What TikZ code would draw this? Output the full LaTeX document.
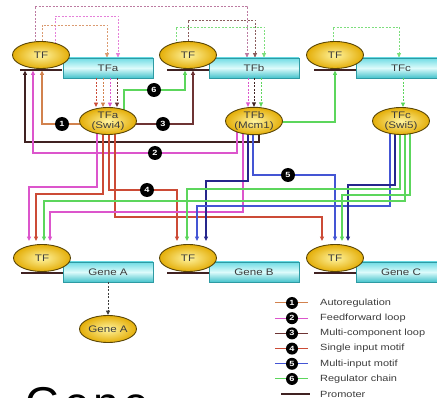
\documentclass[tikz,border=0pt]{standalone}
\usepackage{fontspec}
\setmainfont[FakeStretch=1.22]{Liberation Sans}
\newfontfamily\bigfont[LetterSpace=8]{Liberation Sans}
\usetikzlibrary{arrows.meta,calc,shapes.geometric}
\definecolor{ink}{HTML}{3C3C3C}
\definecolor{gold1}{HTML}{FFF4A0}
\definecolor{gold2}{HTML}{E4AE08}
\definecolor{tfline}{HTML}{5A4606}
\definecolor{boxtop}{HTML}{6FDCE4}
\definecolor{boxmid}{HTML}{DDFBFB}
\definecolor{boxbot}{HTML}{45C3CC}
\definecolor{boxline}{HTML}{2E9AA3}
\definecolor{colauto}{HTML}{D2824E}
\definecolor{colffwd}{HTML}{DC55CC}
\definecolor{colffdark}{HTML}{402222}
\definecolor{colmulti}{HTML}{6E3434}
\definecolor{colsingle}{HTML}{CC4B36}
\definecolor{colmimo}{HTML}{4455D4}
\definecolor{colnavy}{HTML}{26268C}
\definecolor{colchain}{HTML}{5CD65C}
\pgfdeclarelayer{back}
\pgfsetlayers{back,main}
\tikzset{
  tf/.style={ellipse, draw=tfline, line width=0.9pt, inner color=gold1, outer color=gold2,
    minimum width=57pt, minimum height=27pt, inner sep=0pt, align=center,
    font=\fontsize{9.5}{10.5}\selectfont, text=ink},
  genebox/.style={rectangle, draw=boxline, line width=0.7pt, top color=boxtop, bottom color=boxbot,
    middle color=boxmid, minimum width=90pt, minimum height=20pt, inner sep=0pt,
    font=\fontsize{9.5}{10.5}\selectfont, text=ink},
  num/.style={circle, fill=black, text=white, font=\bfseries\fontsize{7.5}{8}\selectfont,
    minimum size=14pt, inner sep=0pt},
  legnum/.style={num, minimum size=12pt},
  legtext/.style={anchor=west, inner sep=0pt, font=\fontsize{9}{10}\selectfont, text=ink},
  wire/.style={line width=1.1pt, -{Triangle[length=4.5pt,width=4pt]}},
  feed/.style={line width=0.9pt, dash pattern=on 2pt off 1.5pt, -{Triangle[length=4.5pt,width=4pt]}},
  promoter/.style={line width=1.6pt, colffdark}
}
\begin{document}
\begin{tikzpicture}[x=1pt,y=-1pt]
  \useasboundingbox (0,0) rectangle (437,398);
  \clip (0,0) rectangle (437,398);
  \node[genebox] (boxA) at (108,68) {TFa};
  \node[genebox] (boxB) at (254,68) {TFb};
  \node[genebox] (boxC) at (401,68) {TFc};
  \node[genebox] (boxGA) at (108,272) {Gene A};
  \node[genebox] (boxGB) at (254,272) {Gene B};
  \node[genebox] (boxGC) at (401,272) {Gene C};
  \node[tf] (tfA) at (41,55) {TF};
  \node[tf] (tfB) at (188,55) {TF};
  \node[tf] (tfC) at (335,55) {TF};
  \node[tf] (swi) at (108,121) {TFa\\(Swi4)};
  \node[tf] (mcm) at (254,121) {TFb\\(Mcm1)};
  \node[tf] (swiF) at (401,121) {TFc\\(Swi5)};
  \node[tf] (tfGA) at (42,258) {TF};
  \node[tf] (tfGB) at (188,258) {TF};
  \node[tf] (tfGC) at (335,258) {TF};
  \node[tf] (prodA) at (108,329) {Gene A};

  \begin{pgfonlayer}{back}
    \foreach \n in {tfA,tfB,tfC,tfGA,tfGB,tfGC}
      \draw[promoter] ($(\n.south)+(-21,1)$) -- ($(\n.south)+(21,1)$);
    \draw[feed,colmulti!55!colffwd!70!white] ($(tfA.center)+(-6,0)$) -- ++(0,-49) -| ($(boxB.north)+(-7,0)$);
    \draw[feed,colffwd!75!white] ($(tfA.center)+(14,0)$) -- ++(0,-39) -| ($(boxA.north)+(10,0)$);
    \draw[feed,colauto!80!white] ($(tfA.center)+(1,0)$) -- ++(0,-30) -| ($(boxA.north)+(-1,0)$);
    \draw[feed,colmulti!80!white] (tfB.center) -- ++(0,-35) -| ($(boxB.north)+(1,0)$);
    \draw[feed,colchain!80!white] ($(tfB.center)+(-12,0)$) -- ++(0,-28) -| ($(boxB.north)+(10,0)$);
    \draw[feed,colchain!80!white] ($(tfC.center)+(-2,0)$) -- ++(0,-28) -| ($(boxC.north)+(-2,0)$);

    \draw[wire,colauto] ($(swi.center)+(0,3)$) -| ($(tfA.south)+(1,1.5)$);
    \draw[wire,colmulti] ($(swi.center)+(0,3)$) -| ($(tfB.south)+(5,1.5)$);
    \draw[wire,colchain] ($(swi.center)+(16,0)$) -- ++(0,-31) -| ($(tfB.south)+(-3,1.5)$);
    \draw[wire,colchain] ($(mcm.center)+(0,1)$) -| ($(tfC.south)+(0,1.5)$);
    \draw[wire,colffdark] ($(mcm.center)+(5,0)$) -- ++(0,21) -| ($(tfA.south)+(-16,1.5)$);
    \draw[wire,colffwd] ($(mcm.center)+(-17,0)$) -- ++(0,32) -| ($(tfA.south)+(-8,1.5)$);

    \draw[wire,colffwd] ($(swi.center)+(-11,0)$) -- ++(0,66) -| ($(tfGA.north)+(-13,-3)$);
    \draw[wire,colsingle] ($(swi.center)+(-5,0)$) -- ++(0,73) -| ($(tfGA.north)+(-6,-3)$);
    \draw[wire,colsingle] ($(swi.center)+(1,0)$) -- ++(0,69) -| ($(tfGB.north)+(-11,-3)$);
    \draw[wire,colsingle] ($(swi.center)+(7,0)$) -- ++(0,96) -| ($(tfGC.north)+(-13,-3)$);
    \draw[wire,colffwd] ($(mcm.center)+(-11,0)$) -- ++(0,91) -| ($(tfGA.north)+(8,-3)$);
    \draw[wire,colnavy] ($(mcm.center)+(-6,0)$) -- ++(0,60) -| ($(tfGB.north)+(18,-3)$);
    \draw[wire,colmimo] ($(mcm.center)+(-1,0)$) -- ++(0,54) -| ($(tfGC.north)+(0,-3)$);
    \draw[wire,colmimo] ($(swiF.center)+(-11,0)$) -- ++(0,85) -| ($(tfGB.north)+(9,-3)$);
    \draw[wire,colnavy] ($(swiF.center)+(-6,0)$) -- ++(0,64) -| ($(tfGC.north)+(13,-3)$);
    \draw[wire,colchain] ($(swiF.center)+(-1,0)$) -- ++(0,68) -| ($(tfGB.north)+(-1,-3)$);
    \draw[wire,colchain] ($(swiF.center)+(4,0)$) -- ++(0,80) -| ($(tfGA.north)+(2,-3)$);
    \draw[wire,colchain] ($(swiF.center)+(9,0)$) -- ++(0,74) -| ($(tfGC.north)+(7,-3)$);
  \end{pgfonlayer}

  \foreach \dx/\col in {-12/colsingle,-5/colauto,2/colffwd,9/colmulti}
    \draw[feed,\col] ($(boxA.south)+(\dx,0)$) -- ($(swi.north)+(\dx,0)$);
  \foreach \dx/\col in {-6/colffwd,0/colffdark,7/colchain}
    \draw[feed,\col] ($(boxB.south)+(\dx,0)$) -- ($(mcm.north)+(\dx,0)$);
  \draw[feed,colchain] ($(boxC.south)+(2,0)$) -- ($(swiF.north)+(2,0)$);
  \draw[feed,ink] (boxGA.south) -- (prodA.north);

  \node[num] (c1) at (62,124) {1};
  \node[num] (c2) at (155,153) {2};
  \node[num] (c3) at (163,124) {3};
  \node[num] (c4) at (147,190) {4};
  \node[num] (c5) at (288,175) {5};
  \node[num] (c6) at (154,90) {6};

  \foreach \num/\col/\txt [count=\k from 0] in {1/colauto/Autoregulation, 2/colffwd/Feedforward loop,
      3/colmulti/Multi-component loop, 4/colsingle/Single input motif, 5/colmimo/Multi-input motif,
      6/colchain/Regulator chain} {
    \node[legnum] (leg\num) at (292,303+15.2*\k) {\num};
    \begin{pgfonlayer}{back}
      \draw[\col, line width=1pt] ($(leg\num)+(-17,0)$) -- ($(leg\num)+(16,0)$);
    \end{pgfonlayer}
    \node[legtext] (legt\num) at (320,303+15.2*\k) {\txt};
  }
  \node[legtext] (legp) at (320,394) {Promoter};
  \draw[promoter] ($(legp.west)+(-39,0)$) -- ($(legp.west)+(-10,0)$);

  \node[anchor=base west, inner sep=0pt, font=\bigfont\fontsize{46}{46}\selectfont] (gene) at (25,420) {Gene};
\end{tikzpicture}
\end{document}
